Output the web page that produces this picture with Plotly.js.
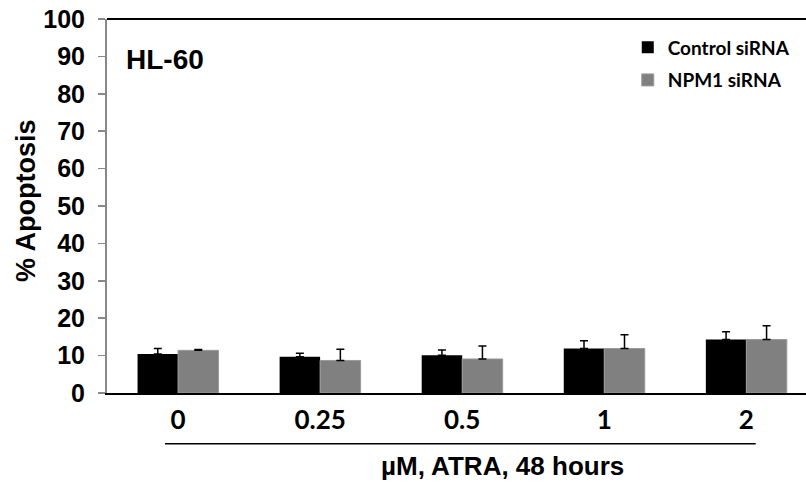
<!DOCTYPE html>
<html>
<head>
<meta charset="utf-8">
<script src="https://cdn.plot.ly/plotly-3.0.1.min.js"></script>
<style>html,body{margin:0;padding:0;background:#fff;}#chart{width:806px;height:489px;}</style>
</head>
<body>
<div id="chart"></div>
<script>
var categories = ["0", "0.25", "0.5", "1", "2"];
var controlValues = [10.4, 9.7, 10.1, 11.9, 14.3];
var controlErrors = [1.5, 0.9, 1.4, 2.1, 2.1];
var npm1Values = [11.4, 8.7, 9.1, 11.9, 14.3];
var npm1Errors = [0.2, 3.0, 3.5, 3.7, 3.7];
var seriesNames = ["Control siRNA", "NPM1 siRNA"];
var yTicks = [0, 10, 20, 30, 40, 50, 60, 70, 80, 90, 100];

var traces = [
  {
    type: "bar", name: seriesNames[0], x: categories, y: controlValues,
    marker: {color: "#000000", line: {width: 0}},
    error_y: {type: "data", array: controlErrors, arrayminus: controlValues.map(function(){return 0;}), symmetric: false, color: "#000000", thickness: 1.5, width: 4},
    legendgroup: "a"
  },
  {
    type: "bar", name: seriesNames[1], x: categories, y: npm1Values,
    marker: {color: "#808080", line: {width: 1, color: "#9a9a9a"}},
    error_y: {type: "data", array: npm1Errors, arrayminus: npm1Values.map(function(){return 0;}), symmetric: false, color: "#000000", thickness: 1.5, width: 4},
    legendgroup: "b"
  }
];

var layout = {
  width: 806, height: 489,
  margin: {l: 107, r: 0, t: 19, b: 96, pad: 0},
  paper_bgcolor: "#ffffff", plot_bgcolor: "#ffffff",
  barmode: "group", bargap: 0.43, bargroupgap: 0,
  showlegend: true,
  legend: {
    x: 0.745, y: 0.975, xanchor: "left", yanchor: "top",
    font: {family: "Lato, 'Open Sans', sans-serif", size: 19, color: "#000", weight: "bold"},
    bgcolor: "rgba(0,0,0,0)", borderwidth: 0,
    traceorder: "grouped", tracegroupgap: 5
  },
  xaxis: {
    type: "category", range: [-0.5, 4.42],
    showline: true, linecolor: "#000000", linewidth: 2,
    ticks: "", showgrid: false, zeroline: false,
    tickfont: {family: "Lato, 'Open Sans', sans-serif", size: 26, color: "#000", weight: "bold"},
    ticklabelstandoff: 3
  },
  yaxis: {
    range: [0, 100], tickvals: yTicks, ticktext: yTicks.map(String),
    showline: true, linecolor: "#888888", linewidth: 2,
    ticks: "outside", ticklen: 7, tickcolor: "#888888", tickwidth: 1.5,
    showgrid: false, zeroline: false,
    tickfont: {family: "Arial, 'Liberation Sans', sans-serif", size: 25, color: "#000", weight: "bold"},
    ticklabelstandoff: 8
  },
  shapes: [
    {type: "line", xref: "paper", yref: "paper", x0: 0, x1: 1, y0: 1, y1: 1, line: {color: "#000", width: 2}},
    {type: "line", xref: "paper", yref: "paper", x0: 0.083, x1: 0.928, y0: -0.136, y1: -0.136, line: {color: "#000", width: 1.5}}
  ],
  annotations: [
    {text: "HL-60", xref: "paper", yref: "paper", x: 0.025, y: 0.893, xanchor: "left", yanchor: "middle", showarrow: false,
     font: {family: "Arial, 'Liberation Sans', sans-serif", size: 28, color: "#000", weight: "bold"}},
    {text: "µM, ATRA, 48 hours", xref: "paper", yref: "paper", x: 0.566, y: -0.195, xanchor: "center", yanchor: "middle", showarrow: false,
     font: {family: "Arial, 'Liberation Sans', sans-serif", size: 26, color: "#000", weight: "bold"}},
    {text: "% Apoptosis", xref: "paper", yref: "paper", x: -0.115, y: 0.515, xanchor: "center", yanchor: "middle", textangle: -90, showarrow: false,
     font: {family: "Arial, 'Liberation Sans', sans-serif", size: 27, color: "#000", weight: "bold"}}
  ]
};

Plotly.newPlot("chart", traces, layout, {displayModeBar: false, staticPlot: true});
</script>
</body>
</html>
